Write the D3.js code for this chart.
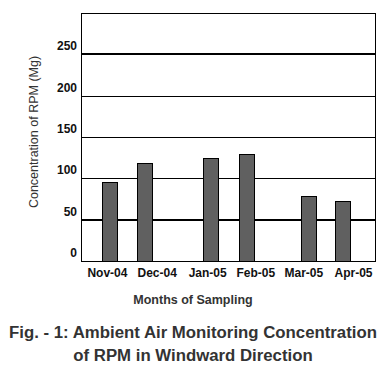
<!DOCTYPE html>
<html>
<head>
<meta charset="utf-8">
<script src="https://cdn.jsdelivr.net/npm/d3@7"></script>
<style>
  html, body { margin: 0; padding: 0; background: #fff; }
  svg { display: block; }
</style>
</head>
<body>
<svg id="chart" width="389" height="372"></svg>
<script>
// ---- data ----
const monthLabels = ["Nov-04", "Dec-04", "Jan-05", "Feb-05", "Mar-05", "Apr-05"];
const monthStarts = ["2004-11-01", "2004-12-01", "2005-01-01", "2005-02-01", "2005-03-01", "2005-04-01"];
const sampleDates = ["2004-11-19", "2004-12-10", "2005-01-20", "2005-02-11", "2005-03-21", "2005-04-11"];
const rpmValues = [95, 119, 125, 129, 79, 72];
const yTicks = [0, 50, 100, 150, 200, 250];
const thickTicks = [50, 250];

(function () {
const parse = d3.timeParse("%Y-%m-%d");
const svg = d3.select("#chart");

const mLeft = 81, mRight = 376, mTop = 13, mBottom = 261;

const x = d3.scaleTime()
  .domain([parse("2004-11-01"), parse("2005-05-01")])
  .range([mLeft, mRight]);
const y = d3.scaleLinear().domain([0, 300]).range([mBottom, mTop]);

// gridlines
svg.append("g").selectAll("line")
  .data(yTicks.filter(t => t > 0))
  .join("line")
  .attr("x1", mLeft).attr("x2", mRight)
  .attr("y1", d => Math.round(y(d))).attr("y2", d => Math.round(y(d)))
  .attr("stroke", "#000")
  .attr("stroke-width", d => thickTicks.includes(d) ? 2 : 1)
  .attr("shape-rendering", "crispEdges");

// bars
const barW = 16;
svg.append("g").selectAll("rect")
  .data(rpmValues.map((v, i) => ({ v, d: parse(sampleDates[i]) })))
  .join("rect")
  .attr("x", d => Math.round(x(d.d) - barW / 2) + 0.5)
  .attr("width", barW - 1)
  .attr("y", d => Math.round(y(d.v)) + 0.5)
  .attr("height", d => mBottom - Math.round(y(d.v)))
  .attr("fill", "#606060")
  .attr("stroke", "#000")
  .attr("stroke-width", 1);

// frame
svg.append("rect")
  .attr("x", mLeft + 0.5).attr("y", mTop + 0.5)
  .attr("width", mRight - mLeft - 1).attr("height", mBottom - mTop)
  .attr("fill", "none").attr("stroke", "#000").attr("stroke-width", 1);

// y tick labels
const tickFont = "'Liberation Sans Narrow', 'Arial Narrow', 'Liberation Sans', Arial, sans-serif";
svg.append("g").selectAll("text")
  .data(yTicks)
  .join("text")
  .attr("x", 77)
  .attr("y", d => y(d) - 4)
  .attr("text-anchor", "end")
  .attr("font-family", tickFont)
  .attr("font-weight", "bold")
  .attr("font-size", 12)
  .attr("fill", "#111")
  .text(d => d);

// x tick labels (mid-month)
svg.append("g").selectAll("text")
  .data(monthLabels.map((m, i) => {
    const s = parse(monthStarts[i]);
    const e = d3.timeMonth.offset(s, 1);
    return { m, c: (x(s) + x(e)) / 2 };
  }))
  .join("text")
  .attr("x", d => d.c + 2)
  .attr("y", 277)
  .attr("text-anchor", "middle")
  .attr("font-family", tickFont)
  .attr("font-weight", "bold")
  .attr("font-size", 12)
  .attr("fill", "#111")
  .text(d => d.m);

// y axis title
svg.append("text")
  .attr("transform", "translate(38,132) rotate(-90)")
  .attr("text-anchor", "middle")
  .attr("font-family", "'Liberation Sans', Arial, sans-serif")
  .attr("font-size", 12.5)
  .attr("fill", "#333")
  .text("Concentration of RPM (Mg)");

// x axis title
svg.append("text")
  .attr("x", 193).attr("y", 304)
  .attr("text-anchor", "middle")
  .attr("font-family", "'Liberation Sans', Arial, sans-serif")
  .attr("font-weight", "bold")
  .attr("font-size", 12.5)
  .attr("fill", "#333")
  .text("Months of Sampling");

// figure caption
const cap = svg.append("text")
  .attr("text-anchor", "middle")
  .attr("font-family", "'Liberation Sans', Arial, sans-serif")
  .attr("font-weight", "bold")
  .attr("font-size", 16.8)
  .attr("fill", "#333");
cap.append("tspan").attr("x", 193).attr("y", 338).text("Fig. - 1: Ambient Air Monitoring Concentration");
cap.append("tspan").attr("x", 193).attr("y", 361).text("of RPM in Windward Direction");
})();
</script>
</body>
</html>
